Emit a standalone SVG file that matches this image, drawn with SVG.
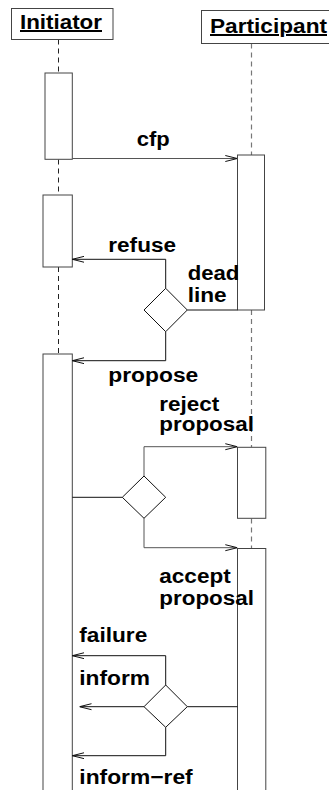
<svg xmlns="http://www.w3.org/2000/svg" width="329" height="790" viewBox="0 0 329 790">
<style>
.bg{fill:#fff}
.hdr{fill:#fff;stroke:#444;stroke-width:1}
.act{fill:#fff;stroke:#444;stroke-width:1}
.life{stroke:#222;stroke-width:1;stroke-dasharray:5,4;fill:none}
.lifeg{stroke:#777;stroke-width:1.2;stroke-dasharray:5,4;fill:none}
.ln{stroke:#111;stroke-width:1;fill:none}
.lng{stroke:#555;stroke-width:1;fill:none}
.dia{fill:#fff;stroke:#111;stroke-width:1}
text{font-family:"Liberation Sans",Arial,Helvetica,sans-serif;font-weight:bold;font-size:20px;fill:#000}
.u{text-decoration:underline}
</style>
<defs>
<marker id="ah" viewBox="0 0 12 8" refX="12" refY="4" markerWidth="12" markerHeight="8" markerUnits="userSpaceOnUse" orient="auto">
<path d="M0,1 L12,4 L0,7" fill="none" stroke="#111" stroke-width="1"/>
</marker>
</defs>
<rect class="bg" x="0" y="0" width="329" height="790"/>
<g id="lifelines">
<line class="life" x1="58.5" y1="39.5" x2="58.5" y2="73"/>
<line class="life" x1="58.5" y1="159.5" x2="58.5" y2="195"/>
<line class="life" x1="58.5" y1="267" x2="58.5" y2="354"/>
<line class="lifeg" x1="251.5" y1="43.5" x2="251.5" y2="155"/>
<line class="lifeg" x1="251.5" y1="310" x2="251.5" y2="447"/>
<line class="lifeg" x1="251.5" y1="518.5" x2="251.5" y2="548.5"/>
</g>
<g id="initiator">
<rect class="hdr" x="11.5" y="8.5" width="101.5" height="31"/>
<text class="u" x="20" y="29" textLength="82" lengthAdjust="spacingAndGlyphs">Initiator</text>
</g>
<g id="participant">
<rect class="hdr" x="201.5" y="10.5" width="140" height="33"/>
<text class="u" x="210" y="33" textLength="117" lengthAdjust="spacingAndGlyphs">Participant</text>
</g>
<g id="init-act1"><rect class="act" x="45" y="73" width="27.3" height="86.3"/></g>
<g id="init-act2"><rect class="act" x="43" y="195" width="29.3" height="72"/></g>
<g id="init-act3"><rect class="act" x="43" y="354" width="29.3" height="450"/></g>
<g id="part-act1"><rect class="act" x="237.5" y="155" width="27" height="155"/></g>
<g id="part-act2"><rect class="act" x="237.5" y="447.3" width="28.3" height="71"/></g>
<g id="part-act3"><rect class="act" x="237.5" y="548.5" width="28.3" height="260"/></g>
<g id="connectors">
<line class="lng" x1="72.3" y1="158.5" x2="237.3" y2="158.5" marker-end="url(#ah)"/>
<polyline class="ln" points="165.7,288.3 165.7,259.3 72.3,259.3" marker-end="url(#ah)"/>
<line class="ln" x1="187.3" y1="310" x2="237.5" y2="310"/>
<polyline class="ln" points="165.7,331.7 165.7,360.7 72.3,360.7" marker-end="url(#ah)"/>
<line class="ln" x1="72.3" y1="497.3" x2="122.3" y2="497.3"/>
<polyline class="lng" points="144,476 144,446.7 237.3,446.7" marker-end="url(#ah)"/>
<polyline class="lng" points="144,518.3 144,547.7 237.3,547.7" marker-end="url(#ah)"/>
<polyline class="ln" points="165.7,685 165.7,655.7 72.3,655.7" marker-end="url(#ah)"/>
<line class="ln" x1="144" y1="706.7" x2="79.5" y2="706.7" marker-end="url(#ah)"/>
<line class="ln" x1="187.3" y1="706.7" x2="237.5" y2="706.7"/>
<polyline class="ln" points="165.7,727.3 165.7,755.7 72.3,755.7" marker-end="url(#ah)"/>
</g>
<g id="decision1"><polygon class="dia" points="165.7,288.3 187.3,310 165.7,331.7 144,310"/></g>
<g id="decision2"><polygon class="dia" points="144,476 165.7,497.3 144,518.3 122.3,497.3"/></g>
<g id="decision3"><polygon class="dia" points="165.7,685 187.3,706.7 165.7,727.3 144,706.7"/></g>
<g id="labels">
<text x="136.7" y="146" textLength="33" lengthAdjust="spacingAndGlyphs">cfp</text>
<text x="108.3" y="251.7" textLength="67.7" lengthAdjust="spacingAndGlyphs">refuse</text>
<text x="187.7" y="280" textLength="51.6" lengthAdjust="spacingAndGlyphs">dead</text>
<text x="187.7" y="301.7" textLength="39" lengthAdjust="spacingAndGlyphs">line</text>
<text x="108.3" y="381.5" textLength="90" lengthAdjust="spacingAndGlyphs">propose</text>
<text x="159.3" y="410.8" textLength="60" lengthAdjust="spacingAndGlyphs">reject</text>
<text x="159.3" y="431" textLength="94.7" lengthAdjust="spacingAndGlyphs">proposal</text>
<text x="159.3" y="583.3" textLength="71.4" lengthAdjust="spacingAndGlyphs">accept</text>
<text x="159.3" y="605" textLength="94.7" lengthAdjust="spacingAndGlyphs">proposal</text>
<text x="79.3" y="641.7" textLength="68" lengthAdjust="spacingAndGlyphs">failure</text>
<text x="79.3" y="685" textLength="70.7" lengthAdjust="spacingAndGlyphs">inform</text>
<text x="79.3" y="784" textLength="113.4" lengthAdjust="spacingAndGlyphs">inform−ref</text>
</g>
</svg>
